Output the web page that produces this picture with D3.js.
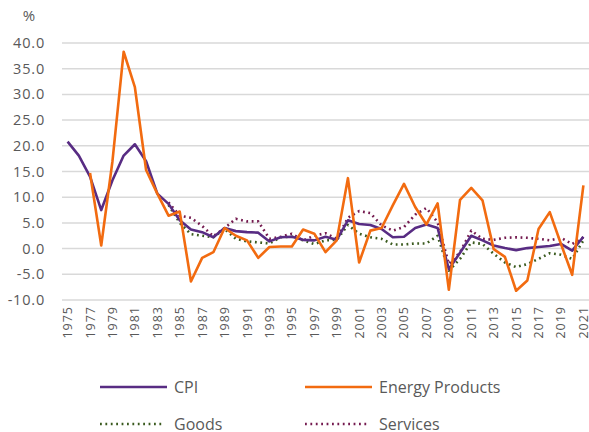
<!DOCTYPE html>
<html>
<head>
<meta charset="utf-8">
<script src="https://cdn.jsdelivr.net/npm/d3@7"></script>
<style>
  body { margin: 0; background: #fff; }
  svg text { font-family: "Open Sans", sans-serif; fill: #595959; }
</style>
</head>
<body>
<svg width="589" height="432"></svg>
<script>
const years = d3.range(1975, 2022);

const cpi = [20.8, 18.1, 14.0, 7.5, 13.3, 18.1, 20.3, 17.0, 10.7, 8.7, 5.5, 3.7, 3.2, 2.2, 4.0, 3.4, 3.2, 3.1, 1.4, 2.2, 2.3, 1.7, 1.6, 2.3, 1.7, 5.5, 4.8, 4.6, 3.8, 2.2, 2.3, 4.0, 4.7, 4.0, -4.0, -0.8, 2.5, 1.6, 0.6, 0.1, -0.3, 0.1, 0.3, 0.5, 0.9, -0.4, 2.3];

const energy = [null, null, 14.7, 0.6, 17.0, 38.3, 31.4, 15.3, 10.7, 6.4, 7.2, -6.4, -1.8, -0.7, 4.0, 2.5, 1.6, -1.8, 0.3, 0.4, 0.4, 3.7, 2.9, -0.7, 1.6, 13.7, -2.7, 3.5, 4.0, 8.4, 12.6, 8.1, 4.7, 8.8, -8.0, 9.5, 11.8, 9.4, -0.1, -1.6, -8.2, -6.2, 3.8, 7.1, 0.9, -5.1, 12.3];

const goods = [null, null, null, null, null, null, null, null, null, 8.5, 5.0, 2.8, 2.5, 2.2, 3.8, 1.9, 1.4, 1.2, 1.0, 2.2, 2.3, 1.6, 0.9, 1.6, 1.7, 4.6, 2.9, 2.2, 1.9, 0.8, 0.8, 1.0, 1.0, 2.5, -4.3, -2.0, 1.2, 0.9, -1.0, -2.7, -3.6, -3.0, -2.0, -0.9, -1.2, -2.0, 1.6];

const services = [null, null, null, null, null, null, null, null, null, 9.0, 6.4, 6.0, 4.4, 2.4, 4.0, 5.8, 5.3, 5.3, 1.9, 2.3, 2.9, 1.6, 2.5, 3.0, 1.9, 6.0, 7.3, 6.9, 4.5, 3.5, 4.2, 6.6, 7.9, 5.1, -3.0, -0.7, 3.5, 1.9, 1.7, 2.1, 2.2, 2.1, 1.9, 1.6, 2.1, 0.9, 2.2];

const yTicks = [40, 35, 30, 25, 20, 15, 10, 5, 0, -5, -10];

const series = [
  { name: "CPI", values: cpi, color: "#582c83", dash: null },
  { name: "Energy Products", values: energy, color: "#f26b10", dash: null },
  { name: "Goods", values: goods, color: "#3a5a1e", dash: "1.8 3.6" },
  { name: "Services", values: services, color: "#741a4f", dash: "1.8 3.6" }
];

const svg = d3.select("svg");
const plotLeft = 62, plotRight = 589, plotTop = 43, plotBottom = 300;

const x = d3.scaleBand().domain(years).range([plotLeft, plotRight]);
const y = d3.scaleLinear().domain([-10, 40]).range([plotBottom, plotTop]);

// gridlines
svg.append("g")
  .selectAll("line")
  .data(yTicks)
  .enter()
  .append("line")
  .attr("x1", plotLeft)
  .attr("x2", plotRight)
  .attr("y1", (d) => y(d))
  .attr("y2", (d) => y(d))
  .attr("stroke", "#d9d9d9")
  .attr("stroke-width", 1.5);

// y labels
svg.append("g")
  .selectAll("text")
  .data(yTicks)
  .enter()
  .append("text")
  .attr("x", 45)
  .attr("y", (d) => y(d) + 5)
  .attr("text-anchor", "end")
  .style("font-size", "14.5px")
  .style("letter-spacing", "0.8px")
  .text((d) => d.toFixed(1));

svg.append("text")
  .attr("x", 29)
  .attr("y", 21)
  .attr("text-anchor", "middle")
  .style("font-size", "15px")
  .text("%");

// x labels
svg.append("g")
  .selectAll("text")
  .data(years.filter((d) => (d - 1975) % 2 === 0))
  .enter()
  .append("text")
  .attr("transform", (d) => "translate(" + (x(d) + x.bandwidth() / 2 + 4.5) + "," + 306 + ") rotate(-90)")
  .attr("text-anchor", "end")
  .style("font-size", "12.5px")
  .style("letter-spacing", "1px")
  .text((d) => d);

const line = d3.line()
  .defined((d) => d[1] !== null)
  .x((d) => x(d[0]) + x.bandwidth() / 2)
  .y((d) => y(d[1]));

const order = [series[2], series[3], series[0], series[1]];
svg.append("g")
  .selectAll("path")
  .data(order)
  .enter()
  .append("path")
  .attr("d", (s) => line(years.map((yr, i) => [yr, s.values[i]])))
  .attr("fill", "none")
  .attr("stroke", (s) => s.color)
  .attr("stroke-width", 2.6)
  .attr("stroke-dasharray", (s) => s.dash)
  .attr("stroke-linejoin", "round");

// legend
const legendPos = [
  { x: 100, y: 387 },
  { x: 305, y: 387 },
  { x: 100, y: 424 },
  { x: 305, y: 424 }
];

const leg = svg.append("g")
  .selectAll("g")
  .data(series)
  .enter()
  .append("g")
  .attr("transform", (d, i) => "translate(" + legendPos[i].x + "," + legendPos[i].y + ")");

leg.append("line")
  .attr("x1", 0)
  .attr("x2", (d) => (d.dash ? 62 : 67))
  .attr("stroke", (d) => d.color)
  .attr("stroke-width", 2.6)
  .attr("stroke-dasharray", (d) => d.dash);

leg.append("text")
  .attr("x", 74)
  .attr("y", 6)
  .style("font-size", "16px")
  .text((d) => d.name);
</script>
</body>
</html>
